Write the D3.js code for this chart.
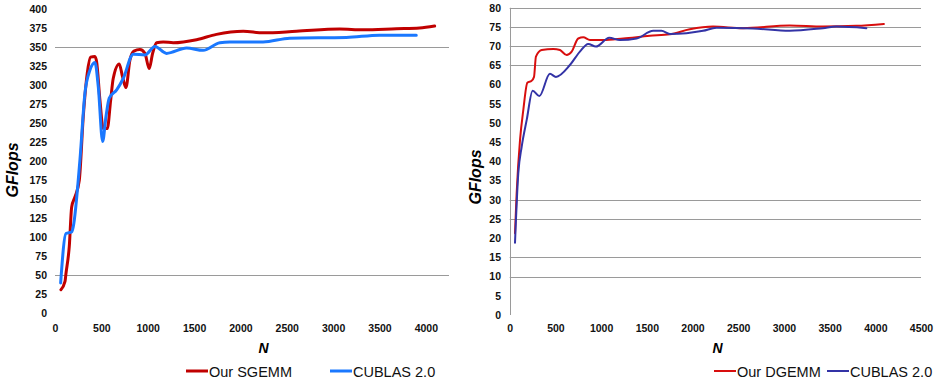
<!DOCTYPE html>
<html>
<head>
<meta charset="utf-8">
<script src="https://cdn.jsdelivr.net/npm/d3@7"></script>
<style>
  body { margin: 0; background: #fff; }
  text { font-family: "Liberation Sans", Arial, sans-serif; }
</style>
</head>
<body>
<div id="chart"></div>
<script>
// left chart: single precision
const sgemmN = [64, 108, 118, 154, 180, 215, 262, 305, 348, 384, 431, 449, 485, 521, 564, 600, 628, 693, 729, 765, 808, 851, 916, 970, 1016, 1053, 1096, 1167, 1275, 1527, 1742, 2030, 2245, 2604, 3071, 3323, 3682, 3933, 4095];
const sgemmGflops = [31, 42, 52, 88, 140, 153, 175, 259, 316, 337, 338, 331, 280, 243, 243, 280, 309, 328, 311, 297, 333, 345, 347, 342, 322, 342, 356, 357, 356, 360, 367, 371, 369, 371, 374, 373, 374.5, 375.5, 378];
const cublasSN = [61, 118, 180, 197, 269, 323, 377, 431, 467, 514, 550, 585, 665, 736, 844, 970, 1078, 1203, 1419, 1598, 1778, 1886, 2245, 2532, 3143, 3502, 3897];
const cublasSGflops = [40, 105, 107, 114, 202, 290, 320, 330, 298, 226, 259, 283, 294, 309, 341, 340, 351, 342, 349, 346, 356, 357, 357, 362, 363, 366, 366];

// right chart: double precision
const dgemmN = [58, 76, 113, 149, 193, 240, 266, 287, 350, 477, 550, 623, 678, 750, 805, 878, 1023, 1242, 1533, 1752, 1970, 2225, 2553, 3063, 3427, 3792, 4094];
const dgemmGflops = [21.3, 31.7, 45.6, 53.4, 60.5, 61, 62, 67.3, 69, 69.3, 69, 67.7, 68.6, 72, 72.3, 71.6, 71.6, 72, 72.7, 73.1, 74.4, 75.1, 74.7, 75.4, 75.1, 75.3, 75.8];
const cublasDN = [58, 94, 131, 186, 251, 324, 440, 506, 659, 768, 859, 943, 1089, 1205, 1388, 1570, 1661, 1752, 1934, 2116, 2262, 2662, 3063, 3427, 3574, 3902];
const cublasDGflops = [18.8, 36.9, 43.8, 50.8, 58.4, 57, 62.8, 62, 65.1, 68.6, 70.6, 69.9, 72.2, 71.6, 72, 74, 74, 73.2, 73.4, 74, 74.8, 74.6, 74, 74.7, 75.1, 74.7];

const leftYTicks = d3.range(0, 401, 25);
const leftXTicks = d3.range(0, 4001, 500);
const leftGrid = [350, 50];
const rightYTicks = d3.range(0, 81, 5);
const rightXTicks = d3.range(0, 4501, 500);
const rightGrid = [80, 75, 70, 65, 30, 25, 15, 10];

const svg = d3.select('#chart')
  .append('svg')
  .attr('width', 942)
  .attr('height', 384);

function zip(ns, vs) {
  return ns.map((n, i) => ({ n: n, v: vs[i] }));
}

function drawPanel(opt) {
  const x = d3.scaleLinear().domain(opt.xDomain).range(opt.xRange);
  const y = d3.scaleLinear().domain(opt.yDomain).range(opt.yRange);
  const g = svg.append('g');

  // grid lines (only the ones that show in the picture)
  g.selectAll('line.grid')
    .data(opt.grid)
    .enter()
    .append('line')
    .attr('x1', opt.xRange[0])
    .attr('x2', opt.xRange[1])
    .attr('y1', d => Math.round(y(d)) + 0.5)
    .attr('y2', d => Math.round(y(d)) + 0.5)
    .style('stroke', '#9a9a9a')
    .style('stroke-width', 1);

  if (opt.yAxisLine) {
    g.append('line')
      .attr('x1', Math.round(opt.xRange[0]) + 0.5)
      .attr('x2', Math.round(opt.xRange[0]) + 0.5)
      .attr('y1', opt.yRange[1])
      .attr('y2', opt.yRange[0])
      .style('stroke', '#9a9a9a');
  }

  // axes, labels only
  const yAxis = g.append('g')
    .attr('transform', 'translate(' + opt.yLabelX + ',0)')
    .call(d3.axisLeft(y).tickValues(opt.yTicks).tickFormat(d3.format('d')).tickSize(0).tickPadding(0));
  const xAxis = g.append('g')
    .attr('transform', 'translate(0,' + opt.xLabelY + ')')
    .call(d3.axisBottom(x).tickValues(opt.xTicks).tickFormat(d3.format('d')).tickSize(0).tickPadding(0));
  [yAxis, xAxis].forEach(a => {
    a.select('.domain').remove();
    a.selectAll('text')
      .style('font-size', '10.5px')
      .style('font-weight', 'bold')
      .style('font-family', '"Liberation Sans", Arial, sans-serif')
      .style('fill', '#111');
  });

  const line = d3.line()
    .x(d => x(d.n))
    .y(d => y(d.v))
    .curve(d3.curveMonotoneX);

  opt.series.forEach(s => {
    g.append('path')
      .datum(zip(s.n, s.v))
      .attr('d', line)
      .style('fill', 'none')
      .style('stroke', s.color)
      .style('stroke-width', opt.lineWidth)
      .style('stroke-linejoin', 'round')
      .style('stroke-linecap', 'round');
  });

  // axis titles
  g.append('text')
    .attr('transform', 'translate(' + opt.yTitle[0] + ',' + opt.yTitle[1] + ') rotate(-90)')
    .attr('text-anchor', 'middle')
    .style('font-size', '16px')
    .style('font-weight', 'bold')
    .style('font-style', 'italic')
    .text('GFlops');
  g.append('text')
    .attr('x', opt.xTitle[0])
    .attr('y', opt.xTitle[1])
    .attr('text-anchor', 'middle')
    .style('font-size', '14px')
    .style('font-weight', 'bold')
    .style('font-style', 'italic')
    .text('N');

  // legend
  opt.series.forEach((s, i) => {
    const lx = opt.legendX[i];
    g.append('line')
      .attr('x1', lx)
      .attr('x2', lx + 22)
      .attr('y1', 371)
      .attr('y2', 371)
      .style('stroke', s.color)
      .style('stroke-width', opt.lineWidth);
    g.append('text')
      .attr('x', lx + 23)
      .attr('y', 376.5)
      .style('font-size', '14.5px')
      .style('fill', '#111')
      .text(s.name);
  });
}

drawPanel({
  xDomain: [0, 4250], xRange: [55, 449],
  yDomain: [0, 400], yRange: [313.3, 9.3],
  grid: leftGrid, yAxisLine: false,
  yTicks: leftYTicks, xTicks: leftXTicks,
  yLabelX: 47, xLabelY: 325,
  lineWidth: 3,
  yTitle: [18, 170], xTitle: [263.5, 352.5],
  legendX: [186, 330],
  series: [
    { name: 'Our SGEMM', n: sgemmN, v: sgemmGflops, color: '#c00000' },
    { name: 'CUBLAS 2.0', n: cublasSN, v: cublasSGflops, color: '#1a78ff' }
  ]
});

drawPanel({
  xDomain: [0, 4500], xRange: [509.7, 921],
  yDomain: [0, 80], yRange: [315, 7.8],
  grid: rightGrid, yAxisLine: true,
  yTicks: rightYTicks, xTicks: rightXTicks,
  yLabelX: 501, xLabelY: 325,
  lineWidth: 2,
  yTitle: [481, 177], xTitle: [717.5, 352.5],
  legendX: [714, 827],
  series: [
    { name: 'Our DGEMM', n: dgemmN, v: dgemmGflops, color: '#d80e0e' },
    { name: 'CUBLAS 2.0', n: cublasDN, v: cublasDGflops, color: '#3333a6' }
  ]
});
</script>
</body>
</html>
